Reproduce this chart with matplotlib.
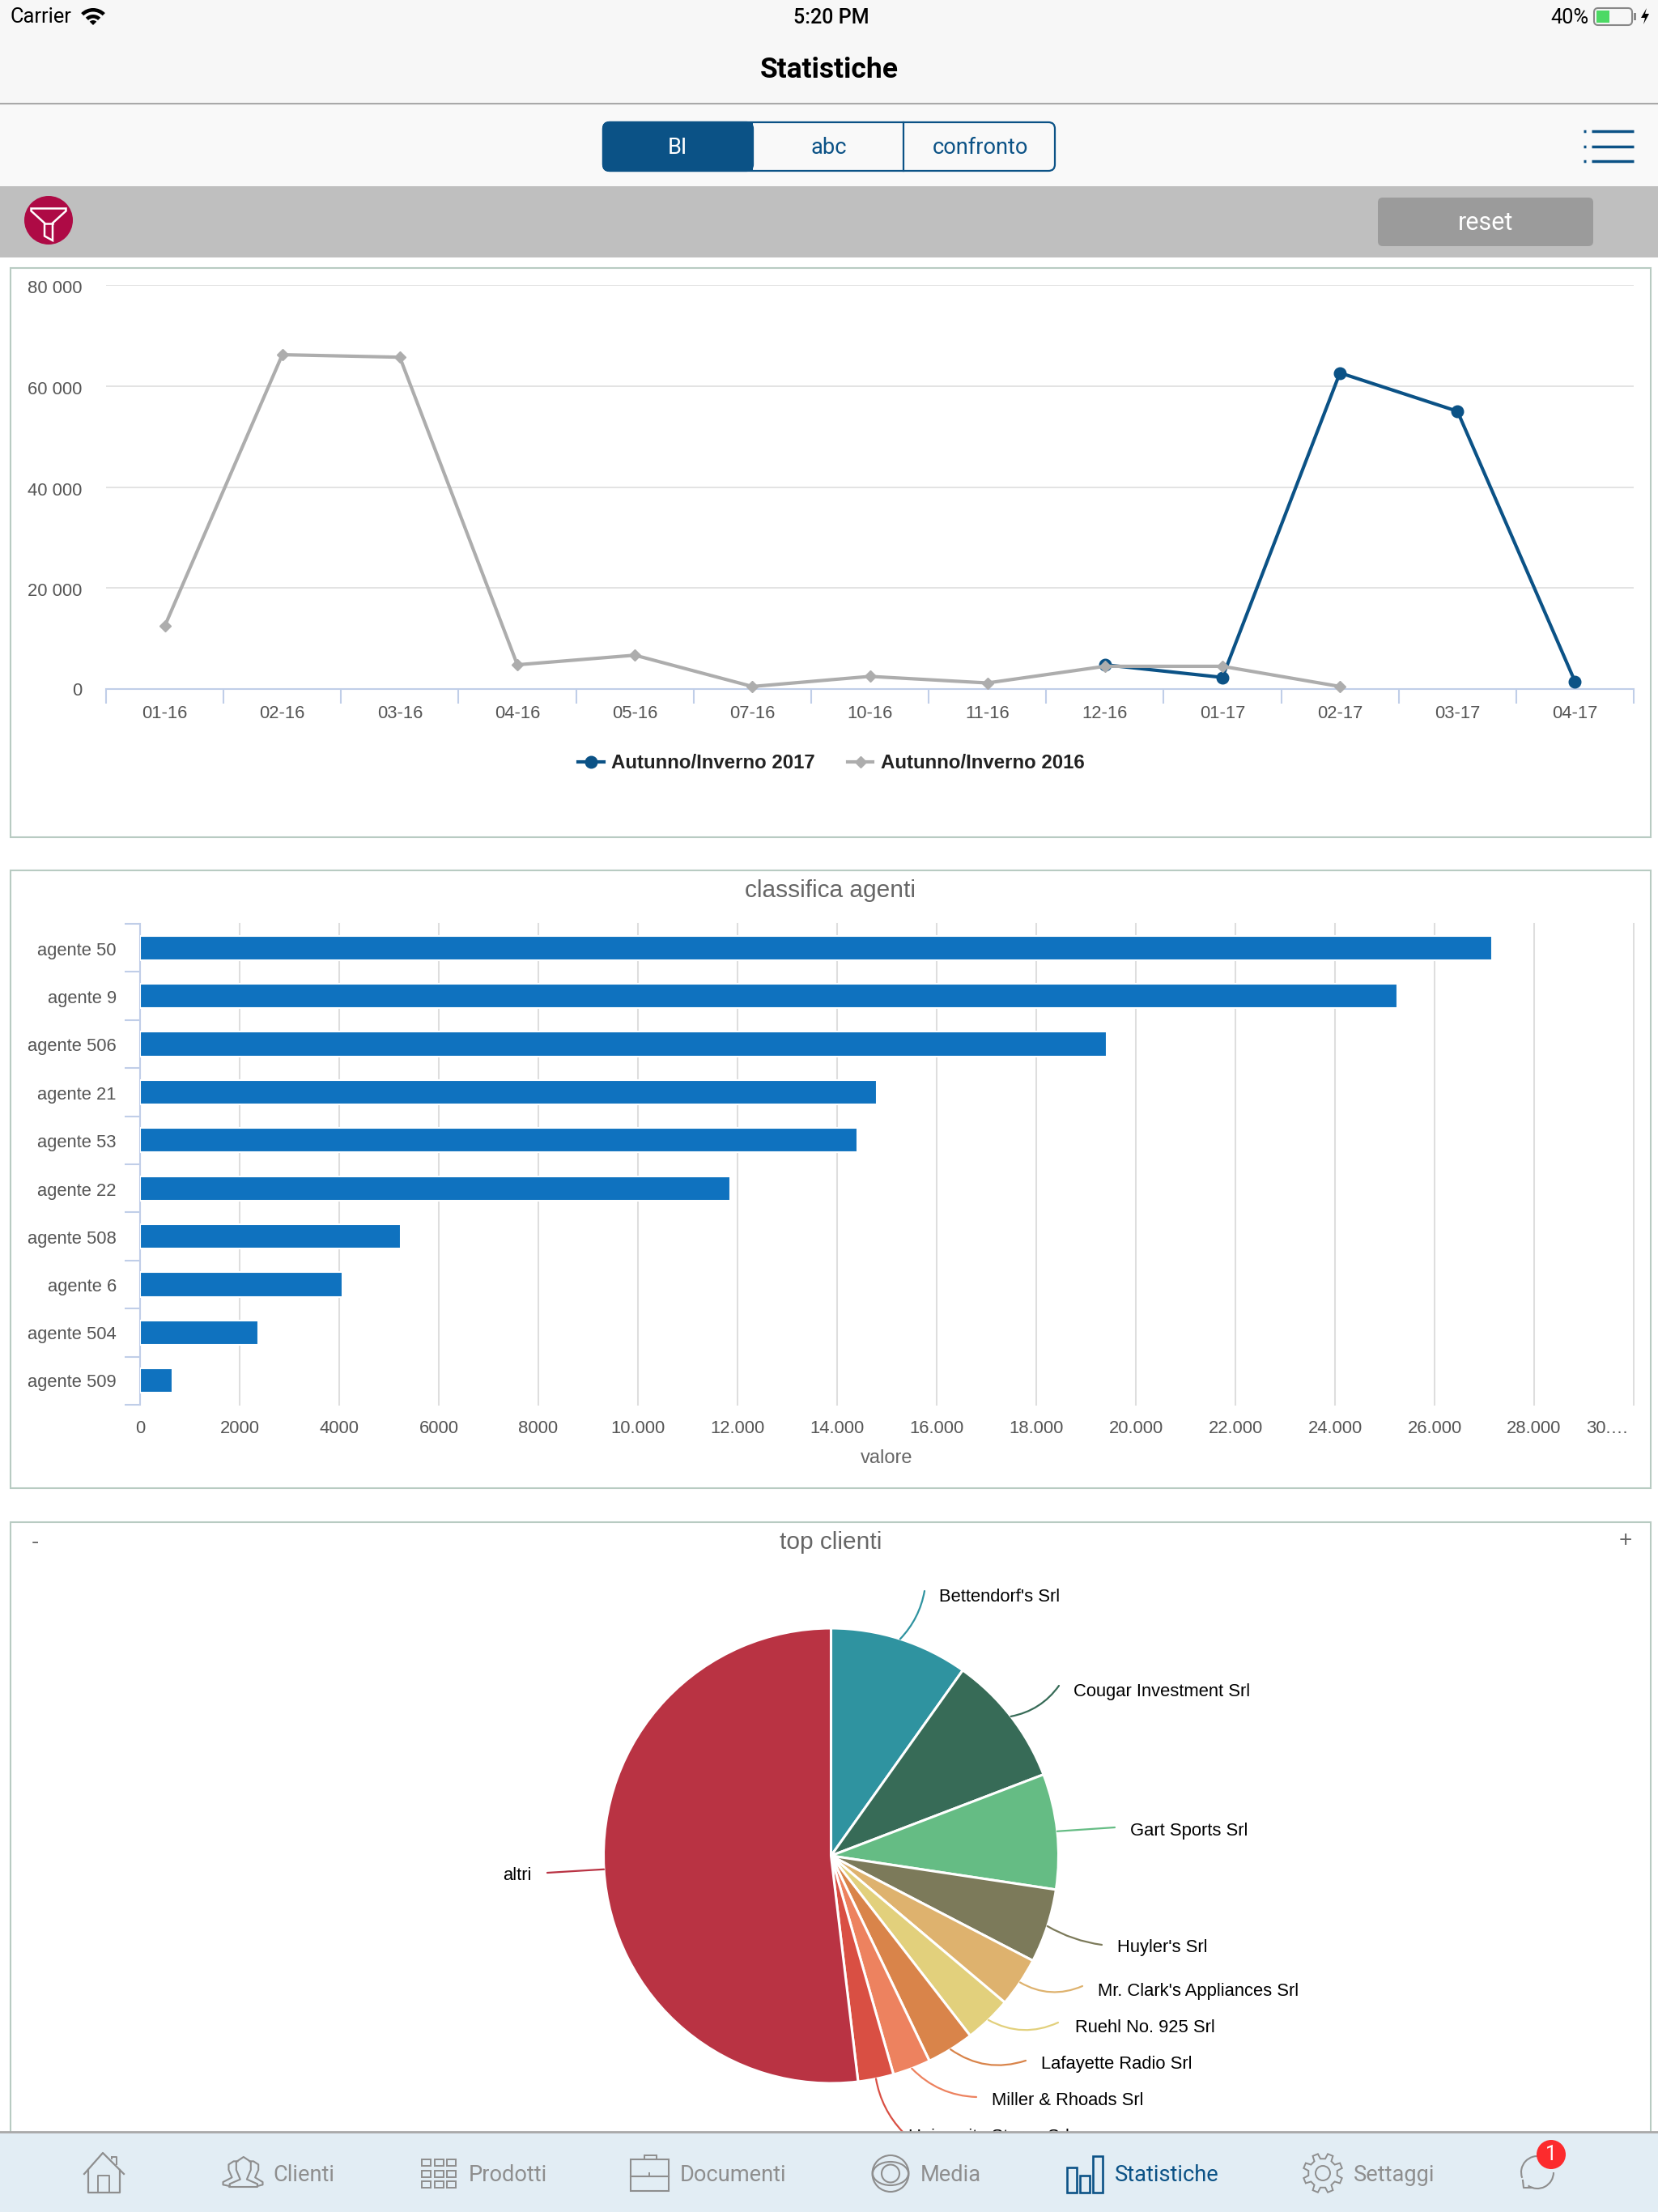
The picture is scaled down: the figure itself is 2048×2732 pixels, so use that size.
import numpy as np
import matplotlib
matplotlib.use('Agg')
import matplotlib.pyplot as plt
from matplotlib.patches import Rectangle, FancyBboxPatch, Circle, Arc, Polygon, Wedge, Ellipse
from matplotlib.transforms import ScaledTranslation

plt.rcParams['font.family'] = ['Liberation Sans', 'DejaVu Sans']

# line chart
months = ['01-16', '02-16', '03-16', '04-16', '05-16', '07-16', '10-16', '11-16', '12-16', '01-17', '02-17', '03-17', '04-17']
serie_2016 = [12500, 66200, 65700, 4800, 6700, 500, 2500, 1200, 4500, 4500, 500]
serie_2017 = [4800, 2300, 62600, 55000, 1500]
serie_2017_start = 8
y_ticks = [0, 20000, 40000, 60000, 80000]
y_labels = ['0', '20 000', '40 000', '60 000', '80 000']

# bar chart
agenti = ['agente 50', 'agente 9', 'agente 506', 'agente 21', 'agente 53', 'agente 22', 'agente 508', 'agente 6', 'agente 504', 'agente 509']
valori = [27150, 25250, 19410, 14800, 14400, 11860, 5230, 4070, 2370, 650]
x_ticks = list(range(0, 30001, 2000))
x_labels = ['0', '2000', '4000', '6000', '8000', '10.000', '12.000', '14.000', '16.000', '18.000', '20.000', '22.000', '24.000', '26.000', '28.000', '30.…']

# pie chart
clienti = ["Bettendorf's Srl", 'Cougar Investment Srl', 'Gart Sports Srl', "Huyler's Srl", "Mr. Clark's Appliances Srl",
           'Ruehl No. 925 Srl', 'Lafayette Radio Srl', 'Miller & Rhoads Srl', 'University Stores Srl', 'altri']
quote = [9.83, 9.36, 8.19, 5.25, 3.53, 3.36, 3.36, 2.69, 2.53, 51.9]
pie_colors = ['#2F93A0', '#376B57', '#65BC84', '#7C7A5A', '#DEB26E', '#E2D07C', '#D9844A', '#ED825F', '#D94F43', '#B93343']
# where each leader line ends and its text starts (pixels, y down)
leader_ends = [(1142, 1965), (1308, 2082), (1377, 2257), (1361, 2402), (1337, 2453), (1307, 2498), (1267, 2545), (1206, 2590), (1115, 2633), (676, 2313)]
label_pos = [(1160, 1972), (1326, 2090), (1396, 2262), (1380, 2406), (1356, 2460), (1328, 2505), (1286, 2550), (1225, 2595), (1122, 2640), (656, 2317)]
leader_rad = [0.15, 0.2, 0.0, 0.1, 0.25, 0.25, 0.25, 0.2, 0.15, 0.0]

BLUE = '#0B5286'
GRAY = '#ADADAD'
NAVGRAY = '#8E8E8E'
W, H = 2048, 2732
UIFONT = ['Roboto', 'DejaVu Sans']

fig = plt.figure(figsize=(W / 100, H / 100), dpi=100, facecolor='white')


def add_ax(x0, y0, x1, y1, **kw):
    # pixel box, y measured from the top
    return fig.add_axes([x0 / W, 1 - y1 / H, (x1 - x0) / W, (y1 - y0) / H], **kw)


def pixel_layer(zorder):
    a = fig.add_axes([0, 0, 1, 1], zorder=zorder)
    a.set_xlim(0, W)
    a.set_ylim(H, 0)
    a.axis('off')
    a.patch.set_alpha(0)
    return a


def nudge_down(labels, dy):
    for lab in labels:
        lab.set_transform(lab.get_transform() + ScaledTranslation(0, -dy / 100, fig.dpi_scale_trans))


# ---- header and panels
ui = pixel_layer(0)
ui.add_patch(Rectangle((0, 0), W, 128, color='#F7F7F7', lw=0))
ui.add_patch(Rectangle((0, 128), W, 102, color='#F9F9F9', lw=0))
ui.plot([0, W], [128, 128], color='#A9A9A9', lw=1.5)
ui.add_patch(Rectangle((0, 230), W, 88, color='#BFBFBF', lw=0))

ui.text(12, 21, 'Carrier', fontsize=18.3, family=UIFONT, va='center', ha='left')
ui.add_patch(Wedge((115, 31), 21, 225, 315, width=4.5, color='black', lw=0))
ui.add_patch(Wedge((115, 31), 13, 225, 315, width=4.5, color='black', lw=0))
ui.add_patch(Wedge((115, 31), 6, 225, 315, color='black', lw=0))
ui.text(1027, 22, '5:20 PM', fontsize=18, family=UIFONT, va='center', ha='center', weight='medium')
ui.text(1962, 22, '40%', fontsize=18.3, family=UIFONT, va='center', ha='right')
ui.add_patch(FancyBboxPatch((1969, 10), 47, 21, boxstyle='round,pad=0,rounding_size=5', fc='none', ec='#888888', lw=1.5))
ui.add_patch(Rectangle((1972, 13), 16, 15, color='#4CD964', lw=0))
ui.add_patch(Rectangle((2018, 16), 3, 9, color='#888888', lw=0))
ui.add_patch(Polygon([(2034, 10), (2027, 22), (2032, 22), (2030, 30), (2037, 17), (2032, 17)], color='black', lw=0))
ui.text(1024, 87, 'Statistiche', fontsize=25.5, family=UIFONT, weight='bold', va='center', ha='center')

ui.add_patch(FancyBboxPatch((745, 151), 558, 60, boxstyle='round,pad=0,rounding_size=8', fc='#F9F9F9', ec=BLUE, lw=1.6))
ui.add_patch(FancyBboxPatch((745, 151), 185, 60, boxstyle='round,pad=0,rounding_size=8', fc=BLUE, ec=BLUE, lw=1.6))
ui.add_patch(Rectangle((900, 150), 30, 62, color=BLUE, lw=0))
ui.plot([1116, 1116], [151, 211], color=BLUE, lw=1.6)
ui.text(837, 183, 'BI', color='white', fontsize=19.6, family=UIFONT, ha='center', va='center')
ui.text(1024, 183, 'abc', color=BLUE, fontsize=19.6, family=UIFONT, ha='center', va='center')
ui.text(1211, 183, 'confronto', color=BLUE, fontsize=19.6, family=UIFONT, ha='center', va='center')
for yy in [162, 181, 199]:
    ui.plot([1956, 1959], [yy, yy], color=BLUE, lw=2.5, solid_capstyle='butt')
    ui.plot([1966, 2018], [yy, yy], color=BLUE, lw=2.5, solid_capstyle='butt')

ui.add_patch(Circle((60, 272), 30, color='#AE0A45', lw=0))
ui.add_patch(Polygon([(38.5, 257.5), (81.5, 257.5), (81.5, 260.5), (65, 275.5), (65, 297), (55, 291.5), (55, 275.5), (38.5, 260.5)],
                     fc='none', ec='white', lw=1.8))
ui.plot([55, 65], [275.5, 275.5], color='white', lw=1.8)
ui.add_patch(FancyBboxPatch((1702, 244), 266, 60, boxstyle='round,pad=0,rounding_size=6', fc='#9B9B9B', ec='none'))
ui.text(1835, 276, 'reset', color='white', fontsize=22, family=UIFONT, ha='center', va='center')

# chart frames
for y0, y1 in [(331, 1034), (1075, 1838), (1880, 2700)]:
    ui.add_patch(Rectangle((13, y0), 2026, y1 - y0, fc='white', ec='#B8CBC2', lw=1.5))
ui.text(1026, 1100, 'classifica agenti', fontsize=21.5, color='#666666', ha='center', va='center')
ui.text(1026, 1905, 'top clienti', fontsize=21.5, color='#666666', ha='center', va='center')
ui.text(43, 1905, '-', fontsize=20, color='#666666', ha='center', va='center')
ui.text(2008, 1903, '+', fontsize=20, color='#666666', ha='center', va='center')
ui.text(1095, 1801, 'valore', fontsize=17, color='#666666', ha='center', va='center')

# ---- line chart
ax = add_ax(131, 352, 2018, 851, zorder=1)
ax.patch.set_alpha(0)
x = np.arange(len(months))
l17, = ax.plot(x[serie_2017_start:], serie_2017, color=BLUE, lw=3, marker='o', ms=10.5, label='Autunno/Inverno 2017', clip_on=False, zorder=3)
l16, = ax.plot(x[:len(serie_2016)], serie_2016, color=GRAY, lw=3, marker='D', ms=7.5, label='Autunno/Inverno 2016', clip_on=False, zorder=4)
ax.set_xlim(-0.5, 12.5)
ax.set_ylim(0, 80000)
ax.set_yticks(y_ticks, y_labels)
ax.set_xticks(x, months)
ax.set_xticks(np.arange(-0.5, 13), minor=True)
ax.grid(axis='y', color='#E0E0E0', lw=1.3)
ax.set_axisbelow(True)
ax.tick_params(axis='y', length=0, pad=21, labelsize=15.8, labelcolor='#555555')
ax.tick_params(axis='x', which='major', length=0, pad=14.5, labelsize=15.8, labelcolor='#555555')
ax.tick_params(axis='x', which='minor', length=13, width=1.5, color='#C0CEE8')
nudge_down(ax.get_yticklabels()[1:], 2)
for name in ['top', 'left', 'right']:
    ax.spines[name].set_visible(False)
ax.spines['bottom'].set_color('#C0CEE8')
ax.spines['bottom'].set_linewidth(1.5)
fig.legend(handles=[l17, l16], loc='center', bbox_to_anchor=(1027 / W, 1 - 943 / H), ncol=2, frameon=False,
           prop={'size': 17.3, 'weight': 'bold'}, handlelength=1.3, handletextpad=0.4, columnspacing=1.67, labelcolor='#222222')

# ---- bar chart
bx = add_ax(173, 1141, 2018, 1735, zorder=1)
bx.patch.set_alpha(0)
pos = np.arange(len(agenti))
bx.barh(pos, valori, height=0.51, color='#0F72BF', edgecolor='white', linewidth=1.5, zorder=3)
bx.set_xlim(0, 30000)
bx.set_ylim(len(agenti) - 0.5, -0.5)
bx.set_yticks(pos, agenti)
bx.set_yticks(np.arange(-0.5, len(agenti)), minor=True)
bx.set_xticks(x_ticks, x_labels)
bx.grid(axis='x', color='#DEDEDE', lw=1.45)
for gl in bx.get_xgridlines():
    gl.set_clip_on(False)
bx.set_axisbelow(True)
bx.tick_params(axis='y', which='major', length=0, pad=21, labelsize=15.8, labelcolor='#555555')
bx.tick_params(axis='y', which='minor', length=13.5, width=1.5, color='#C0CEE8')
bx.tick_params(axis='x', length=0, pad=14, labelsize=15.8, labelcolor='#555555')
nudge_down(bx.get_yticklabels()[:8], 1)
last = bx.get_xticklabels()[-1]
last.set_ha('right')
last.set_transform(last.get_transform() + ScaledTranslation(-6 / 100, 0, fig.dpi_scale_trans))
for name in ['top', 'bottom', 'right']:
    bx.spines[name].set_visible(False)
bx.spines['left'].set_color('#C0CEE8')
bx.spines['left'].set_linewidth(1.5)

# ---- pie, in a full figure axes with y up so pixels stay pixels
px = fig.add_axes([0, 0, 1, 1], zorder=1)
px.patch.set_alpha(0)
cx, cy, rad = 1026.5, H - 2292, 281
wedges, _ = px.pie(quote, colors=pie_colors, startangle=90, counterclock=False, center=(cx, cy), radius=rad,
                   wedgeprops={'edgecolor': 'white', 'linewidth': 2.2})
px.set_xlim(0, W)
px.set_ylim(0, H)
px.axis('off')
for i, w in enumerate(wedges):
    mid = np.deg2rad((w.theta1 + w.theta2) / 2)
    start = (cx + rad * np.cos(mid), cy + rad * np.sin(mid))
    end = (leader_ends[i][0], H - leader_ends[i][1])
    px.annotate('', xy=end, xytext=start, arrowprops=dict(arrowstyle='-', color=pie_colors[i], lw=1.6,
                                                          connectionstyle='arc3,rad=%s' % leader_rad[i], shrinkA=0, shrinkB=0))
    px.text(label_pos[i][0], H - label_pos[i][1], clienti[i], fontsize=15.8, color='black', va='center',
            ha='right' if clienti[i] == 'altri' else 'left')

# ---- bottom tab bar
nav = pixel_layer(5)
nav.add_patch(Rectangle((0, 2633), W, 99, color='#E2EDF4', lw=0))
nav.plot([0, W], [2633, 2633], color='#A9A9A9', lw=2)
for label, xpos, col in [('Clienti', 337, NAVGRAY), ('Prodotti', 579, NAVGRAY), ('Documenti', 840, NAVGRAY),
                         ('Media', 1137, NAVGRAY), ('Statistiche', 1377, BLUE), ('Settaggi', 1672, NAVGRAY)]:
    nav.text(xpos, 2686, label, color=col, fontsize=19.6, family=UIFONT, ha='left', va='center')

# home
nav.plot([104, 127, 153], [2685, 2659, 2685], color=NAVGRAY, lw=1.6)
nav.plot([109, 109, 148, 148], [2680, 2708, 2708, 2680], color=NAVGRAY, lw=1.6)
nav.plot([121, 121, 135, 135], [2708, 2687, 2687, 2708], color=NAVGRAY, lw=1.4)
nav.plot([138, 144, 144], [2664, 2664, 2673], color=NAVGRAY, lw=1.4)
nav.plot([138, 138], [2664, 2666], color=NAVGRAY, lw=1.4)


# people, outlines read from the icon at 2.45x / 3x zoom
def people_line(zx, zy, lw=1.5):
    nav.plot(60 + np.array(zx) / 2.45, 2640 + np.array(zy) / 3, color=NAVGRAY, lw=lw)


people_line([548, 548, 580, 568, 568, 590, 612, 612, 600, 632, 632, 548], [183, 172, 155, 120, 90, 72, 90, 120, 155, 172, 183, 183])
people_line([548, 528, 528, 555, 545, 545, 560, 572], [180, 175, 165, 148, 120, 100, 88, 88])
people_line([632, 648, 648, 625, 635, 635, 620, 608], [180, 175, 165, 148, 120, 100, 88, 88])

# grid
for gx in [521, 537, 552]:
    for gy in [2667, 2681, 2694]:
        nav.add_patch(Rectangle((gx, gy), 11, 8, fc='none', ec=NAVGRAY, lw=1.4))
# briefcase
nav.add_patch(Rectangle((779, 2667), 47, 39, fc='none', ec=NAVGRAY, lw=1.5))
nav.add_patch(Rectangle((796, 2662), 15, 5, fc='none', ec=NAVGRAY, lw=1.4))
nav.plot([779, 826], [2688, 2688], color=NAVGRAY, lw=1.5)
nav.plot([802, 802], [2684, 2687], color=NAVGRAY, lw=1.4)
# media
nav.add_patch(Circle((1100, 2684.5), 22.5, fc='none', ec=NAVGRAY, lw=1.5))
nav.add_patch(Ellipse((1100, 2684.5), 44, 29, fc='none', ec=NAVGRAY, lw=1.5))
nav.add_patch(Circle((1100, 2684.5), 11, fc='none', ec=NAVGRAY, lw=1.5))
# stats
for bxp, bh in [(1318, 31), (1334, 21), (1350, 45)]:
    nav.add_patch(Rectangle((bxp, 2708 - bh), 12, bh, fc='none', ec=BLUE, lw=1.9))
# gear
nav.add_patch(Circle((1634, 2684), 9, fc='none', ec=NAVGRAY, lw=1.4))
ang = np.deg2rad(np.arange(0, 360, 45) + 22.5)
gear = []
for a in ang:
    for da, r in [(-13, 18), (-8, 24.5), (8, 24.5), (13, 18)]:
        t = a + np.deg2rad(da)
        gear.append((1634 + r * np.cos(t), 2684 + r * np.sin(t)))
nav.add_patch(Polygon(gear, fc='none', ec=NAVGRAY, lw=1.4))
# sync and badge
nav.add_patch(Arc((1899, 2683), 40, 40, theta1=160, theta2=285, color=NAVGRAY, lw=1.5))
nav.add_patch(Arc((1899, 2683), 40, 40, theta1=0, theta2=125, color=NAVGRAY, lw=1.5))
nav.plot([1881, 1882, 1893], [2693, 2702, 2702], color=NAVGRAY, lw=1.5)
nav.add_patch(Circle((1916, 2661), 18, color='#FC2B2D', lw=0))
nav.text(1916, 2661, '1', color='white', fontsize=18, family=UIFONT, ha='center', va='center')

fig.savefig('out.png', dpi=100, facecolor='white')
